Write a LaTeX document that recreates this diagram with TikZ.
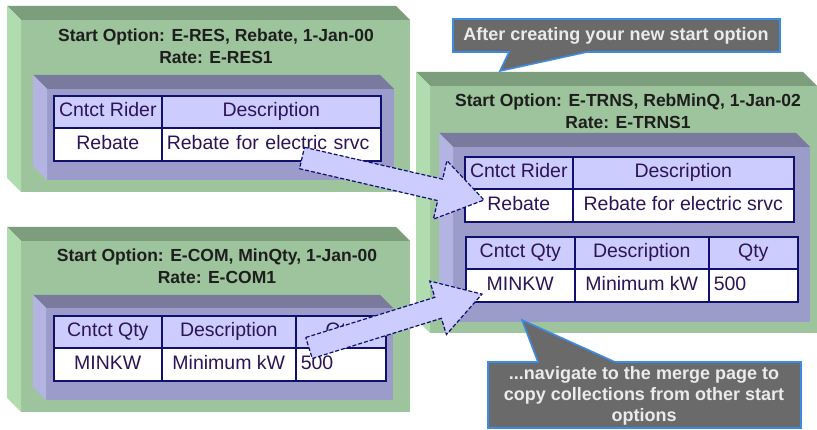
\documentclass[tikz,border=0pt]{standalone}
\usepackage{fontspec}
\setmainfont{Liberation Sans}
\definecolor{gF}{RGB}{157,196,156}
\definecolor{gT}{RGB}{125,158,124}
\definecolor{gL}{RGB}{176,220,175}
\definecolor{pF}{RGB}{156,156,202}
\definecolor{pT}{RGB}{122,122,158}
\definecolor{pL}{RGB}{180,180,226}
\definecolor{hdrc}{RGB}{204,204,255}
\definecolor{arrc}{RGB}{204,204,255}
\definecolor{navyc}{RGB}{16,16,112}
\definecolor{txtc}{RGB}{45,20,85}
\definecolor{ttlc}{RGB}{30,30,30}
\definecolor{callc}{RGB}{106,106,106}
\definecolor{callb}{RGB}{60,140,230}
\newcommand\cubebox[6]{%
  \fill[#6F] ({#1+#5},{#2+#5}) rectangle (#3,#4);
  \fill[#6T] (#1,#2) -- ({#3-#5},#2) -- (#3,{#2+#5}) -- ({#1+#5},{#2+#5}) -- cycle;
  \fill[#6L] (#1,#2) -- ({#1+#5},{#2+#5}) -- ({#1+#5},#4) -- (#1,{#4-#5}) -- cycle;
}
\tikzset{
  hcell/.style={draw=navyc, line width=1.6pt, fill=hdrc, inner sep=0pt, minimum height=32pt,
    anchor=north west, font=\fontsize{19.5}{21}\selectfont, text=txtc, text height=14pt, text depth=4pt},
  dcell/.style={hcell, fill=white},
  ttl/.style={align=center, font=\fontsize{17.5}{22}\selectfont\bfseries, text=ttlc},
  blockarrow/.style={fill=arrc, draw=navyc, line width=1.2pt, dash pattern=on 4pt off 2pt, line join=miter},
  callout/.style={fill=callc, draw=callb, line width=1.6pt},
  calltext/.style={align=center, text=white!92!black, font=\fontsize{18}{21}\selectfont\bfseries},
}
\begin{document}
\begin{tikzpicture}[x=1pt, y=-1pt]
\useasboundingbox (0,0) rectangle (817,430);
\fill[white] (0,0) rectangle (817,430);

% green boxes with purple inner boxes
\cubebox{7}{6}{410}{192}{14}{g}
\cubebox{33}{75}{394}{180}{14}{p}
\cubebox{7}{227}{410}{412}{14}{g}
\cubebox{33}{295}{393}{400}{13}{p}
\cubebox{416}{72}{817}{333}{14}{g}
\cubebox{439}{133}{810}{322}{14}{p}

% titles
\node[ttl] (title1) at (216,46) {Start Option: E-RES, Rebate, 1-Jan-00\\Rate: E-RES1};
\node[ttl] (title2) at (217,266) {Start Option: E-COM, MinQty, 1-Jan-00\\Rate: E-COM1};
\node[ttl] (title3) at (628,111) {Start Option: E-TRNS, RebMinQ, 1-Jan-02\\Rate: E-TRNS1};

% table 1
\node[hcell, minimum width=108pt] (t1h1) at (53,95) {Cntct Rider};
\node[hcell, minimum width=219pt] (t1h2) at (161,95) {Description};
\node[dcell, minimum width=108pt, minimum height=33pt] (t1d1) at (53,127) {Rebate};
\node[dcell, minimum width=219pt, minimum height=33pt, text width=209pt, align=left, inner xsep=5pt] (t1d2) at (161,127) {Rebate for electric srvc};

% table 2
\node[hcell, minimum width=108pt] (t2h1) at (53,315) {Cntct Qty};
\node[hcell, minimum width=134pt] (t2h2) at (161,315) {Description};
\node[hcell, minimum width=90pt] (t2h3) at (295,315) {Qty};
\node[dcell, minimum width=108pt, minimum height=33pt] (t2d1) at (53,347) {MINKW};
\node[dcell, minimum width=134pt, minimum height=33pt] (t2d2) at (161,347) {Minimum kW};
\node[dcell, minimum width=90pt, minimum height=33pt, text width=80pt, align=left, inner xsep=5pt] (t2d3) at (295,347) {500};

% table 3a
\node[hcell, minimum width=108pt] (t3h1) at (464,156) {Cntct Rider};
\node[hcell, minimum width=221pt] (t3h2) at (572,156) {Description};
\node[dcell, minimum width=108pt, minimum height=33pt] (t3d1) at (464,188) {Rebate};
\node[dcell, minimum width=221pt, minimum height=33pt] (t3d2) at (572,188) {Rebate for electric srvc};

% table 3b
\node[hcell, minimum width=109pt] (t4h1) at (465,236) {Cntct Qty};
\node[hcell, minimum width=134pt] (t4h2) at (574,236) {Description};
\node[hcell, minimum width=89pt] (t4h3) at (708,236) {Qty};
\node[dcell, minimum width=109pt, minimum height=33pt] (t4d1) at (465,268) {MINKW};
\node[dcell, minimum width=134pt, minimum height=33pt] (t4d2) at (574,268) {Minimum kW};
\node[dcell, minimum width=89pt, minimum height=33pt, text width=79pt, align=left, inner xsep=5pt] (t4d3) at (708,268) {500};

% block arrows
\coordinate (a1tail) at (302,158);
\coordinate (a1tip) at (484,200);
\begin{scope}[shift={(a1tail)}, rotate=-13.0]
\draw[blockarrow] (0,-11) -- (141.8,-11) -- (141.8,-30) -- (186.8,0) -- (141.8,30) -- (141.8,11) -- (0,11) -- cycle;
\end{scope}
\coordinate (a2tail) at (309,348);
\coordinate (a2tip) at (482,294);
\begin{scope}[shift={(a2tail)}, rotate=17.3]
\draw[blockarrow] (0,-11) -- (135.2,-11) -- (135.2,-28) -- (181.2,0) -- (135.2,28) -- (135.2,11) -- (0,11) -- cycle;
\end{scope}

% callouts
\draw[callout] (453,19) -- (780,19) -- (780,52) -- (587,52) -- (500,71) -- (509,52) -- (453,52) -- cycle;
\node[calltext] (call1) at (616,36) {After creating your new start option};
\draw[callout] (488,362) -- (538,362) -- (522,320) -- (615,362) -- (801,362) -- (801,428) -- (488,428) -- cycle;
\node[calltext] (call2) at (644,396) {...navigate to the merge page to\\copy collections from other start\\options};
\end{tikzpicture}
\end{document}
